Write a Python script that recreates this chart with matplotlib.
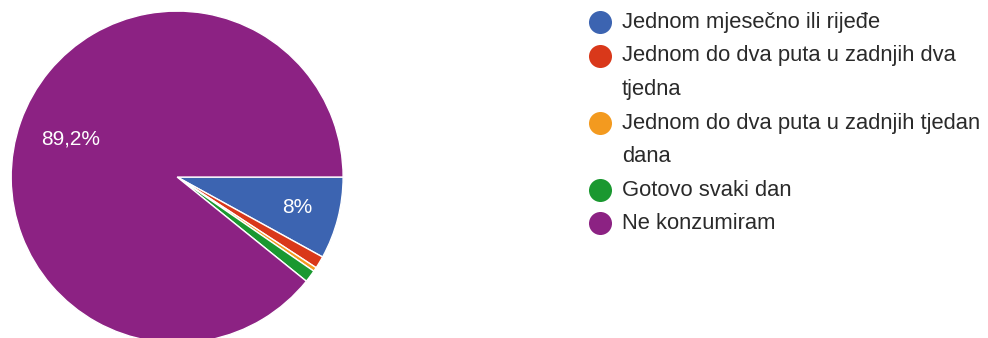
import matplotlib.pyplot as plt

categories = ["Jednom mjesečno ili rijeđe",
              "Jednom do dva puta u zadnjih dva\ntjedna",
              "Jednom do dva puta u zadnjih tjedan\ndana",
              "Gotovo svaki dan",
              "Ne konzumiram"]
values = [8.0, 1.2, 0.4, 1.2, 89.2]
colors = ["#3c64b1", "#d9381a", "#f39a1f", "#1a9830", "#8c2283"]

plt.rcParams['font.family'] = ['Liberation Sans', 'DejaVu Sans']

fig = plt.figure(figsize=(9.88, 3.38), dpi=100)
ax = fig.add_axes([0.0113, -0.0148, 0.336, 0.982])


def fmt(p):
    if p < 5:
        return ""
    s = f"{p:.1f}".rstrip('0').rstrip('.')
    return s.replace('.', ',') + "%"


wedges, texts, autotexts = ax.pie(values, colors=colors, startangle=0, counterclock=False,
                                  autopct=fmt, pctdistance=0.75,
                                  wedgeprops=dict(edgecolor='white', linewidth=1))
for t in autotexts:
    t.set_color('white')
    t.set_fontsize(15)
# the big slice label sits a bit closer to the centre
x, y = autotexts[-1].get_position()
autotexts[-1].set_position((x * 0.68 / 0.75, y * 0.68 / 0.75))
ax.set_xlim(-1, 1)
ax.set_ylim(-1, 1)
ax.set_aspect('equal')
ax.axis('off')

# legend, drawn by hand so the dot lines up with the first text line
lax = fig.add_axes([0, 0, 1, 1])
lax.set_xlim(0, 988)
lax.set_ylim(338, 0)
lax.axis('off')
row = 33.5
yy = 22
for lab, c in zip(categories, colors):
    lax.scatter([600], [yy], s=275, color=c, linewidths=0)
    for k, line in enumerate(lab.split("\n")):
        lax.text(622, yy + 0.5 + k * row, line, fontsize=15.8, color='#2a2a2a',
                 va='center', ha='left')
    yy += row * len(lab.split("\n"))

fig.savefig("out.png", dpi=100)
